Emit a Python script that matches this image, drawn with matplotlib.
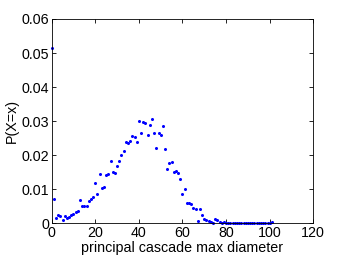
import matplotlib
matplotlib.use('Agg')
import matplotlib.pyplot as plt
import numpy as np

diameter = np.arange(0, 102)
prob = [0.0515, 0.0071, 0.0015, 0.0023, 0.0021, 0.0009, 0.0021, 0.0015, 0.0018, 0.0024,
        0.0026, 0.0032, 0.0036, 0.0068, 0.0051, 0.0051, 0.0051, 0.0066, 0.0072, 0.0076,
        0.0119, 0.0087, 0.0145, 0.0104, 0.0106, 0.0142, 0.0145, 0.0183, 0.0151, 0.0149,
        0.0169, 0.0184, 0.0200, 0.0211, 0.0239, 0.0237, 0.0243, 0.0256, 0.0253, 0.0239,
        0.0300, 0.0264, 0.0297, 0.0294, 0.0260, 0.0288, 0.0307, 0.0265, 0.0220, 0.0264,
        0.0259, 0.0285, 0.0217, 0.0158, 0.0177, 0.0180, 0.0152, 0.0155, 0.0149, 0.0131,
        0.0087, 0.0100, 0.0059, 0.0059, 0.0057, 0.0044, 0.0043, 0.0006, 0.0041, 0.0023,
        0.0013, 0.0009, 0.0006, 0.0005, 0.0002, 0.0013, 0.0010, 0.0003, 0.0002, 0.0003,
        0.0002, 0.0001, 0.0001, 0.0001, 0.0001, 0.0001, 0.0001, 0.0001, 0.0001, 0.0001,
        0.0001, 0.0001, 0.0001, 0.0001, 0.0001, 0.0001, 0.0001, 0.0001, 0.0001, 0.0001,
        0.0001, 0.0003]

plt.rcParams['font.family'] = ['Liberation Sans', 'DejaVu Sans']
plt.rcParams['font.size'] = 10.3

fig = plt.figure(figsize=(3.46, 2.58), dpi=100)
ax = fig.add_axes([0.1494, 0.1345, 0.7561, 0.7919])
ax.plot(diameter, prob, '.', color='#0000ff', markersize=2.4, clip_on=False)
ax.set_xlim(0, 120)
ax.set_ylim(0, 0.06)
ax.set_xticks([0, 20, 40, 60, 80, 100, 120])
ax.set_yticks([0, 0.01, 0.02, 0.03, 0.04, 0.05, 0.06])
ax.set_yticklabels(['0', '0.01', '0.02', '0.03', '0.04', '0.05', '0.06'])
ax.tick_params(direction='in', top=True, right=True, length=3, width=0.6, pad=2)
for s in ax.spines.values():
    s.set_linewidth(0.6)
ax.set_xlabel('principal cascade max diameter', labelpad=1)
ax.set_ylabel('P(X=x)', labelpad=2)
fig.savefig('out.png', dpi=100)
